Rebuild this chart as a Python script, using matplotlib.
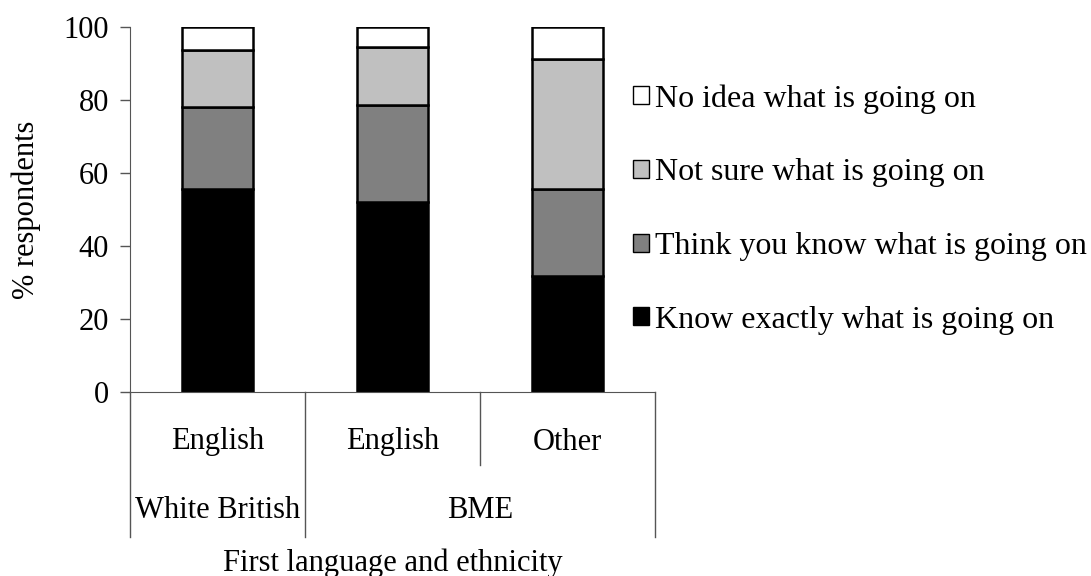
import matplotlib
matplotlib.use('Agg')
import matplotlib.pyplot as plt
from matplotlib.patches import Patch

plt.rcParams['font.family'] = ['Liberation Serif', 'DejaVu Serif']

# data (% respondents)
groups = ['English', 'English', 'Other']
know_exactly = [55.7, 52.0, 31.7]
think_know = [22.3, 26.5, 23.8]
not_sure = [15.6, 16.0, 35.8]
no_idea = [6.4, 5.5, 8.7]
series = [know_exactly, think_know, not_sure, no_idea]
names = ['Know exactly what is going on', 'Think you know what is going on',
         'Not sure what is going on', 'No idea what is going on']
colors = ['#000000', '#808080', '#c0c0c0', '#ffffff']

FS = 22
W, H = 1091, 576
fig = plt.figure(figsize=(W / 100, H / 100), dpi=100)
ax = fig.add_axes([130 / W, (H - 392) / H, 525 / W, 365 / H])

x = [0.5, 1.5, 2.5]
bottom = [0, 0, 0]
for vals, c in zip(series, colors):
    ax.bar(x, vals, width=0.41, bottom=bottom, color=c, edgecolor='black', linewidth=1.8)
    bottom = [b + v for b, v in zip(bottom, vals)]

ax.set_xlim(0, 3)
ax.set_ylim(0, 100)
ax.set_yticks(range(0, 101, 20))
ax.tick_params(axis='y', labelsize=FS, length=7, width=1, direction='out', pad=8, color='#555555')
ax.set_xticks([])
for s in ['top', 'right']:
    ax.spines[s].set_visible(False)
ax.spines['left'].set_color('#555555')
ax.spines['bottom'].set_color('#555555')
ax.set_ylabel('% respondents', fontsize=FS, labelpad=16)

# category axis with group separators
tr = ax.get_xaxis_transform()
px = 1 / 365
for xv, yb in [(0, -145 * px), (1, -145 * px), (2, -73 * px), (3, -145 * px)]:
    ax.plot([xv, xv], [0, yb], color='#555555', lw=1, transform=tr, clip_on=False)
for xv, lab in zip(x, groups):
    ax.text(xv, -50 * px, lab, transform=tr, ha='center', va='center', fontsize=FS)
ax.text(0.5, -118 * px, 'White British', transform=tr, ha='center', va='center', fontsize=FS)
ax.text(2.0, -118 * px, 'BME', transform=tr, ha='center', va='center', fontsize=FS)
fig.text((130 + 525 / 2) / W, 1 - 563 / H, 'First language and ethnicity',
         ha='center', va='center', fontsize=FS)

handles = [Patch(facecolor=c, edgecolor='black', lw=1) for c in colors][::-1]
fig.legend(handles, names[::-1], loc='upper left', bbox_to_anchor=(633 / W, 1 - 84 / H),
           frameon=False, fontsize=23, handlelength=0.5, handleheight=0.5,
           handletextpad=0.2, labelspacing=1.4, borderaxespad=0, borderpad=0)

fig.savefig('out.png', dpi=100)
